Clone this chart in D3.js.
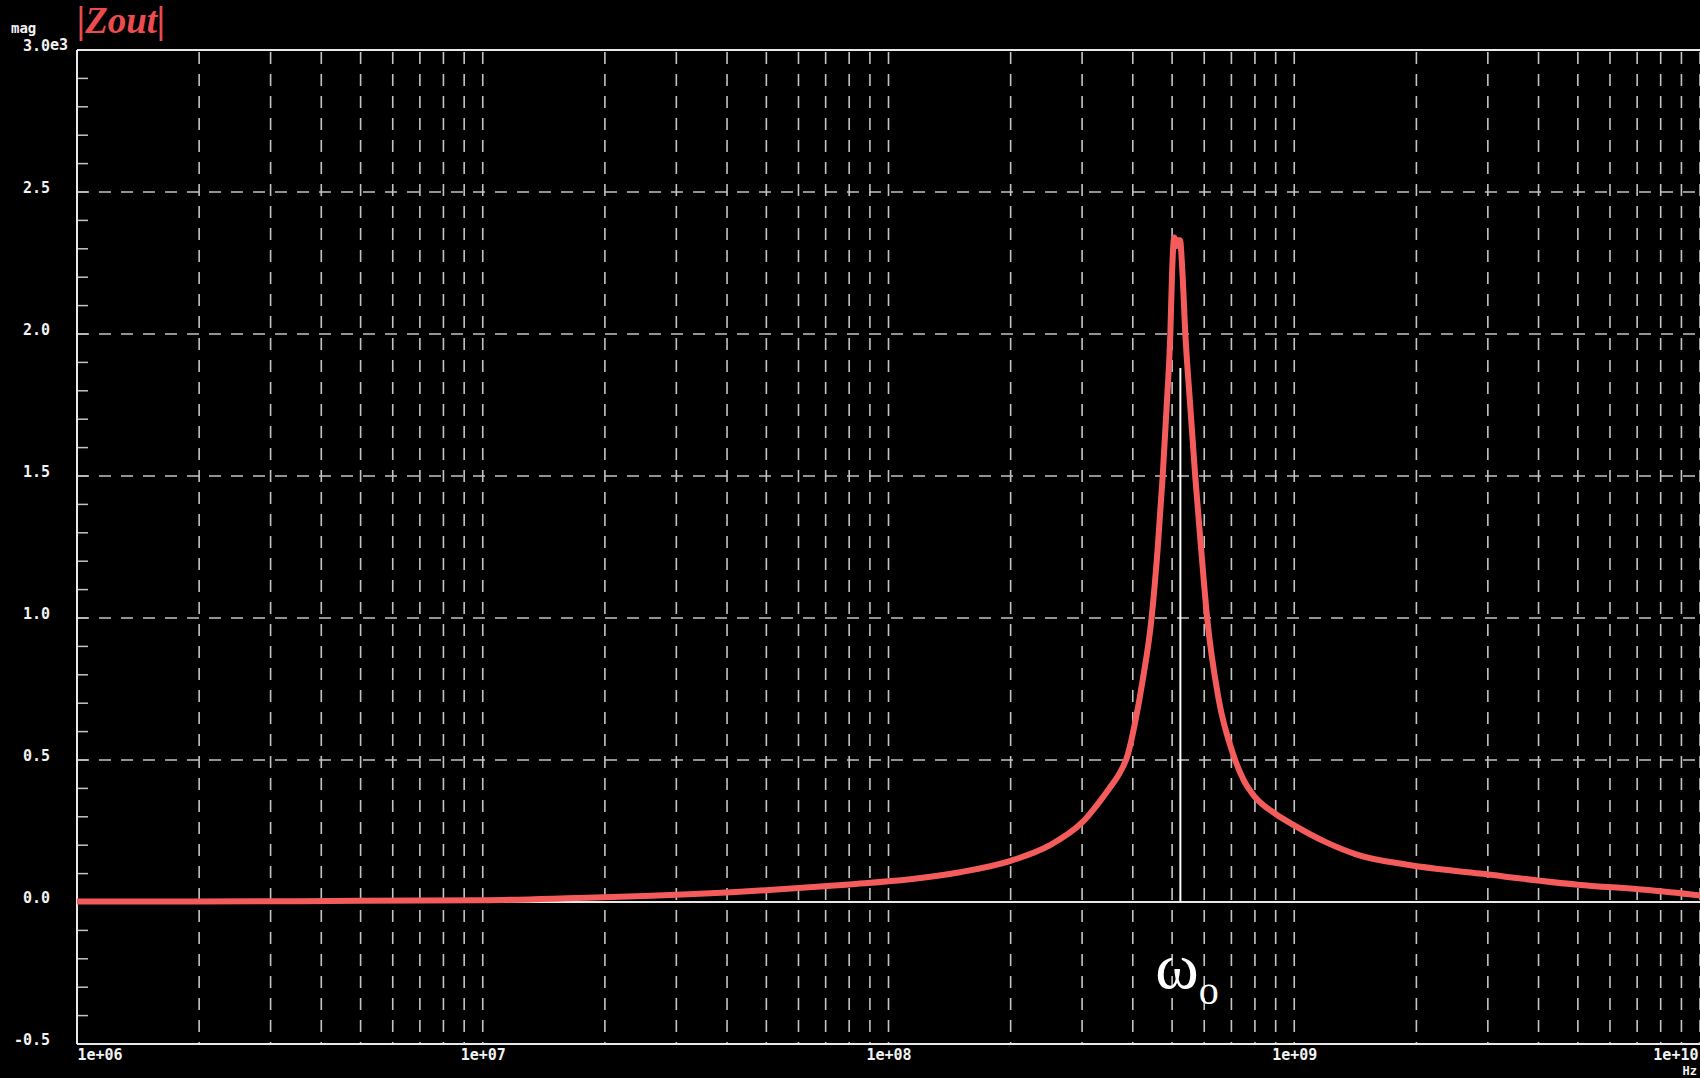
<!DOCTYPE html>
<html>
<head>
<meta charset="utf-8">
<script src="https://cdn.jsdelivr.net/npm/d3@7/dist/d3.min.js"></script>
<style>
  html, body { margin: 0; padding: 0; background: #000; }
  svg { display: block; }
</style>
</head>
<body>
<div id="chart"></div>
<script>
// |Zout| vs frequency, values in units of 1e3
var freqs = [1e6, 2e6, 5e6, 1e7, 1.7e7, 2.5e7, 4.2e7, 6e7, 8e7,
    1.13e8, 1.5e8, 2e8, 2.5e8, 3e8, 3.5e8, 3.7e8,
    3.89e8, 4.05e8, 4.23e8, 4.45e8, 4.61e8, 4.74e8, 4.85e8,
    4.95e8, 5.0e8, 5.06e8, 5.12e8, 5.17e8, 5.23e8, 5.30e8, 5.39e8,
    5.54e8, 5.70e8, 5.89e8, 6.10e8, 6.50e8, 7.11e8, 7.5e8,
    8e8, 9e8, 1e9, 1.2e9,
    1.42e9, 1.92e9, 2.87e9, 4.99e9, 7.45e9, 1e10];
var mags = [0.002, 0.002, 0.004, 0.006, 0.014, 0.021, 0.035, 0.049, 0.062,
    0.08, 0.105, 0.145, 0.2, 0.28, 0.40, 0.45,
    0.52, 0.63, 0.78, 1.0, 1.25, 1.5, 1.75,
    2.0, 2.22, 2.34, 2.31, 2.33, 2.33, 2.22, 2.0,
    1.75, 1.5, 1.25, 1.0, 0.72, 0.51, 0.43,
    0.37, 0.31, 0.27, 0.21,
    0.168, 0.13, 0.10, 0.061, 0.042, 0.023];

var xTicks = [1e6, 1e7, 1e8, 1e9, 1e10];
var xTickLabels = ['1e+06', '1e+07', '1e+08', '1e+09', '1e+10'];
var yTicks = [-0.5, 0.0, 0.5, 1.0, 1.5, 2.0, 2.5, 3.0];
var yGrid = [0.5, 1.0, 1.5, 2.0, 2.5];

var markerFreq = 5.24e8, markerTop = 1.88;

var W = 1700, H = 1078;
var plotL = 77, plotR = 1700, plotT = 50, plotB = 1044;

var svg = d3.select('#chart').append('svg')
    .attr('width', W)
    .attr('height', H)
    .style('background', '#000');

var x = d3.scaleLog().domain([1e6, 1e10]).range([plotL, plotR]);
var y = d3.scaleLinear().domain([-0.5, 3.0]).range([plotB, plotT]);

var gridColor = '#c4c4c4', axisColor = '#e8e8e8';
var monoFont = '"DejaVu Sans Mono", "Liberation Mono", monospace';

// vertical grid: 1..9 per decade
var vGrid = [];
for (var e = 6; e < 10; e++) {
    for (var k = 1; k <= 9; k++) {
        var v = k * Math.pow(10, e);
        if (v > 1e6) vGrid.push(v);
    }
}
vGrid.push(1e10);

svg.append('g').selectAll('line')
    .data(vGrid)
    .enter().append('line')
    .attr('x1', function(d){ return x(d); })
    .attr('x2', function(d){ return x(d); })
    .attr('y1', plotT + 2)
    .attr('y2', plotB)
    .attr('stroke', gridColor)
    .attr('stroke-width', 1.6)
    .attr('stroke-dasharray', '12,10');

svg.append('g').selectAll('line')
    .data(yGrid)
    .enter().append('line')
    .attr('x1', plotL)
    .attr('x2', plotR)
    .attr('y1', function(d){ return y(d); })
    .attr('y2', function(d){ return y(d); })
    .attr('stroke', gridColor)
    .attr('stroke-width', 1.6)
    .attr('stroke-dasharray', '12,10');

// minor ticks on the left axis, every 0.1
var minor = d3.range(-4, 30).map(function(i){ return i / 10; });
svg.append('g').selectAll('line')
    .data(minor)
    .enter().append('line')
    .attr('x1', plotL)
    .attr('x2', plotL + 11)
    .attr('y1', function(d){ return y(d); })
    .attr('y2', function(d){ return y(d); })
    .attr('stroke', gridColor)
    .attr('stroke-width', 1.5);

// frame + zero line
svg.append('line').attr('x1', plotL).attr('x2', plotL).attr('y1', plotT).attr('y2', plotB)
    .attr('stroke', axisColor).attr('stroke-width', 2);
svg.append('line').attr('x1', plotL).attr('x2', plotR).attr('y1', plotT).attr('y2', plotT)
    .attr('stroke', axisColor).attr('stroke-width', 2);
svg.append('line').attr('x1', plotL).attr('x2', plotR).attr('y1', plotB).attr('y2', plotB)
    .attr('stroke', axisColor).attr('stroke-width', 2);
svg.append('line').attr('x1', plotL).attr('x2', plotR).attr('y1', y(0)).attr('y2', y(0))
    .attr('stroke', axisColor).attr('stroke-width', 2);

// y labels
var yAxis = svg.append('g')
    .attr('transform', 'translate(' + 50 + ',0)')
    .call(d3.axisLeft(y).tickValues(yTicks).tickSize(0).tickPadding(0)
        .tickFormat(function(d){ return d3.format('.1f')(d).replace('\u2212', '-'); }));
yAxis.select('.domain').remove();
yAxis.selectAll('text')
    .attr('dy', 0)
    .attr('x', 0)
    .attr('fill', '#f2f2f2')
    .style('font-family', monoFont)
    .style('font-weight', 'bold')
    .style('font-size', '15px');

svg.append('text')
    .attr('x', 50).attr('y', y(3.0))
    .attr('fill', '#f2f2f2')
    .style('font-family', monoFont).style('font-weight', 'bold').style('font-size', '15px')
    .text('e3');
svg.append('text')
    .attr('x', 11).attr('y', 33)
    .attr('fill', '#f2f2f2')
    .style('font-family', monoFont).style('font-weight', 'bold').style('font-size', '14px')
    .text('mag');

// x labels
var xAxis = svg.append('g')
    .attr('transform', 'translate(0,' + plotB + ')')
    .call(d3.axisBottom(x).tickValues(xTicks).tickSize(0)
        .tickFormat(function(d, i){ return xTickLabels[i]; }));
xAxis.select('.domain').remove();
xAxis.selectAll('text')
    .attr('y', 16)
    .attr('dy', 0)
    .attr('fill', '#f2f2f2')
    .style('font-family', monoFont)
    .style('font-weight', 'bold')
    .style('font-size', '15px')
    .attr('text-anchor', function(d, i){
        return i === 0 ? 'start' : (i === xTicks.length - 1 ? 'end' : 'middle');
    })
    .attr('dx', function(d, i){ return i === xTicks.length - 1 ? -2 : 0; });

svg.append('text')
    .attr('x', 1697).attr('y', 1075)
    .attr('text-anchor', 'end')
    .attr('fill', '#f2f2f2')
    .style('font-family', monoFont).style('font-weight', 'bold').style('font-size', '12px')
    .text('Hz');

// the curve
var pts = freqs.map(function(f, i){ return [f, mags[i]]; });
var line = d3.line()
    .x(function(d){ return x(d[0]); })
    .y(function(d){ return y(d[1]); })
    .curve(d3.curveMonotoneX);

svg.append('path')
    .datum(pts)
    .attr('d', line)
    .attr('fill', 'none')
    .attr('stroke', '#f45c5c')
    .attr('stroke-width', 6)
    .attr('stroke-linejoin', 'round');

// resonance marker
svg.append('line')
    .attr('x1', x(markerFreq)).attr('x2', x(markerFreq))
    .attr('y1', y(markerTop)).attr('y2', y(0))
    .attr('stroke', '#ffffff')
    .attr('stroke-width', 2);

var omega = svg.append('text')
    .attr('x', x(markerFreq) - 25).attr('y', 988)
    .attr('fill', '#ffffff')
    .style('font-family', '"Liberation Serif", "Times New Roman", serif');
omega.append('tspan').style('font-size', '66px').text('\u03c9');
omega.append('tspan').style('font-size', '40px').attr('dy', 16).text('o');

// title
svg.append('text')
    .attr('x', 77).attr('y', 33)
    .attr('fill', '#ec4b50')
    .style('font-family', '"Liberation Serif", "Times New Roman", serif')
    .style('font-style', 'italic')
    .style('font-weight', 'bold')
    .style('font-size', '37px')
    .text('|Zout|');
</script>
</body>
</html>
